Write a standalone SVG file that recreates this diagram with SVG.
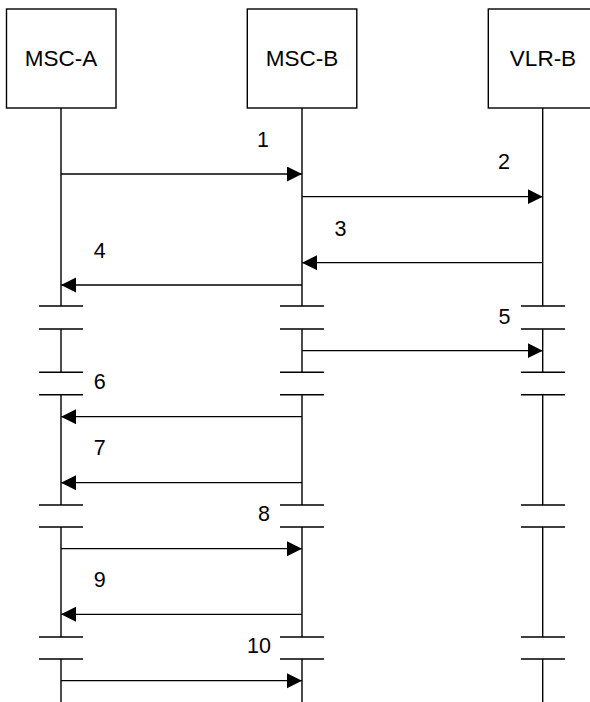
<svg xmlns="http://www.w3.org/2000/svg" width="590" height="702" viewBox="0 0 590 702">
<style>
.box{fill:#fff;stroke:#000;stroke-width:1.4}
.life{stroke:#000;stroke-width:1.4;fill:none}
.cap{stroke:#000;stroke-width:1.4}
.msg{stroke:#000;stroke-width:1.3;fill:none;marker-end:url(#ah)}
.name{font-family:"Liberation Sans",Arial,sans-serif;font-size:22.5px;text-anchor:middle;fill:#000}
.lbl{font-family:"Liberation Sans",Arial,sans-serif;font-size:21.5px;text-anchor:middle;fill:#000}
</style>
<defs>
<marker id="ah" markerUnits="userSpaceOnUse" markerWidth="16" markerHeight="16" refX="15" refY="7.5" orient="auto">
<path d="M0,0 L15,7.5 L0,15 Z" fill="#000"/>
</marker>
</defs>
<g id="msc-a">
<rect class="box" x="6.5" y="9" width="109.5" height="99"/>
<text class="name" x="61" y="66">MSC-A</text>
<path class="life" d="M61,108V306M61,329V372.3M61,394.7V505M61,527V637M61,659V702"/>
<path class="cap" d="M39,306H83M39,329H83M39,372.3H83M39,394.7H83M39,505H83M39,527H83M39,637H83M39,659H83"/>
</g>
<g id="msc-b">
<rect class="box" x="247.3" y="9" width="109.5" height="99"/>
<text class="name" x="302" y="66">MSC-B</text>
<path class="life" d="M302,108V306M302,329V372.3M302,394.7V505M302,527V637M302,659V702"/>
<path class="cap" d="M280,306H324M280,329H324M280,372.3H324M280,394.7H324M280,505H324M280,527H324M280,637H324M280,659H324"/>
</g>
<g id="vlr-b">
<rect class="box" x="488.3" y="9" width="109.5" height="99"/>
<text class="name" x="543" y="66">VLR-B</text>
<path class="life" d="M542.7,108V306M542.7,329V372.3M542.7,394.7V505M542.7,527V637M542.7,659V702"/>
<path class="cap" d="M521,306H565M521,329H565M521,372.3H565M521,394.7H565M521,505H565M521,527H565M521,637H565M521,659H565"/>
</g>
<g id="connectors">
<line class="msg" x1="61" y1="174" x2="302" y2="174"/>
<line class="msg" x1="302" y1="196.7" x2="542.7" y2="196.7"/>
<line class="msg" x1="542.7" y1="262.7" x2="302" y2="262.7"/>
<line class="msg" x1="302" y1="285" x2="61" y2="285"/>
<line class="msg" x1="302" y1="350.7" x2="542.7" y2="350.7"/>
<line class="msg" x1="302" y1="416.7" x2="61" y2="416.7"/>
<line class="msg" x1="302" y1="482.7" x2="61" y2="482.7"/>
<line class="msg" x1="61" y1="548.7" x2="302" y2="548.7"/>
<line class="msg" x1="302" y1="614.3" x2="61" y2="614.3"/>
<line class="msg" x1="61" y1="680.7" x2="302" y2="680.7"/>
</g>
<g id="labels">
<text class="lbl" x="263" y="147">1</text>
<text class="lbl" x="504" y="168.5">2</text>
<text class="lbl" x="340.6" y="235.5">3</text>
<text class="lbl" x="99.7" y="258">4</text>
<text class="lbl" x="504.5" y="323.5">5</text>
<text class="lbl" x="99.7" y="389">6</text>
<text class="lbl" x="99.7" y="454.5">7</text>
<text class="lbl" x="264" y="521">8</text>
<text class="lbl" x="99.7" y="587">9</text>
<text class="lbl" x="259" y="653.3">10</text>
</g>
</svg>
